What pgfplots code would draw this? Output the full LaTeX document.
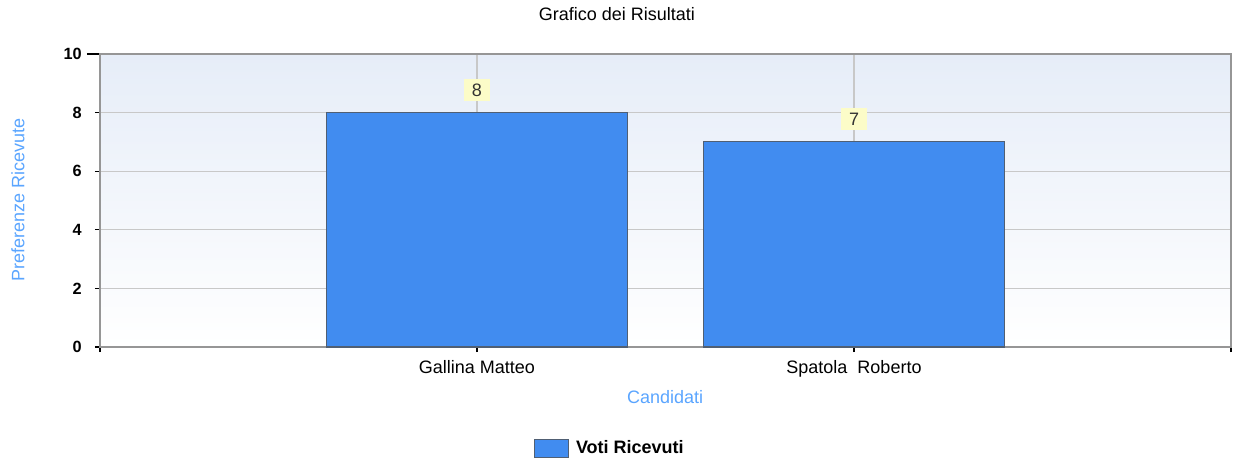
\documentclass[border=0pt]{standalone}
\usepackage{pgfplots}
\pgfplotsset{compat=1.18}
\usepackage{fontspec}
\setmainfont{Liberation Sans}
\definecolor{barblue}{RGB}{65,140,240}
\definecolor{barborder}{RGB}{80,95,115}
\definecolor{titleblue}{RGB}{90,165,255}
\definecolor{bgtop}{RGB}{230,237,248}
\definecolor{gridgray}{RGB}{200,200,200}
\definecolor{axisgray}{RGB}{150,150,150}
\definecolor{lblyellow}{RGB}{252,252,200}
\begin{document}
\begin{tikzpicture}
\useasboundingbox (-75pt,-85.5pt) rectangle (850.5pt,260.25pt);
\begin{axis}[
  at={(0,0)}, anchor=south west,
  width=848.25pt, height=219.75pt, scale only axis,
  xmin=0, xmax=3, ymin=0, ymax=10,
  xtick={0,1,2,3},
  xticklabels={,Gallina Matteo,Spatola\ \ Roberto,},
  ytick={0,2,4,6,8,10},
  /pgf/number format/assume math mode=true,
  tick align=outside, tick pos=left,
  major tick length=3.75pt,
  xtick style={black, line width=0.8pt},
  ytick style={black, line width=0.8pt, shorten <=-6pt},
  axis line style={axisgray, line width=0.9pt},
  xmajorgrids, ymajorgrids,
  grid style={gridgray, line width=0.9pt},
  axis background/.style={top color=bgtop, bottom color=white},
  yticklabel style={font=\fontsize{12.2}{14}\selectfont\bfseries, xshift=-6.5pt},
  xticklabel style={font=\fontsize{13.5}{16}\selectfont, yshift=-3pt},
  title={Grafico dei Risultati},
  title style={at={(axis description cs:0.457,1.1365)}, anchor=center, yshift=-6pt, font=\fontsize{13.5}{16}\selectfont},
  xlabel={Candidati},
  xlabel style={at={(axis description cs:0.4996,-0.1706)}, anchor=center, font=\fontsize{13.5}{16}\selectfont, text=titleblue},
  ylabel={Preferenze Ricevute},
  ylabel style={at={(axis description cs:-0.0725,0.502)}, anchor=center, rotate=0, font=\fontsize{13.5}{16}\selectfont, text=titleblue},
  legend style={draw=none, fill=none, at={(axis description cs:0.4512,-0.345)}, anchor=center,
    font=\fontsize{13.5}{16}\selectfont\bfseries},
  legend image code/.code={\draw[#1] (0pt,-6.75pt) rectangle (25.5pt,6.75pt);},
  nodes near coords,
  every node near coord/.append style={font=\fontsize{13.5}{16}\selectfont, fill=lblyellow,
    minimum width=19.5pt, minimum height=16.5pt, inner sep=0pt, anchor=south, yshift=8.25pt, text=black!80},
]
\addplot[ybar, bar width=0.8, fill=barblue, draw=barborder, line width=0.8pt]
  coordinates {(1,8) (2,7)};
\addlegendentry{\hspace{3pt}Voti Ricevuti}
\end{axis}
\end{tikzpicture}
\end{document}
